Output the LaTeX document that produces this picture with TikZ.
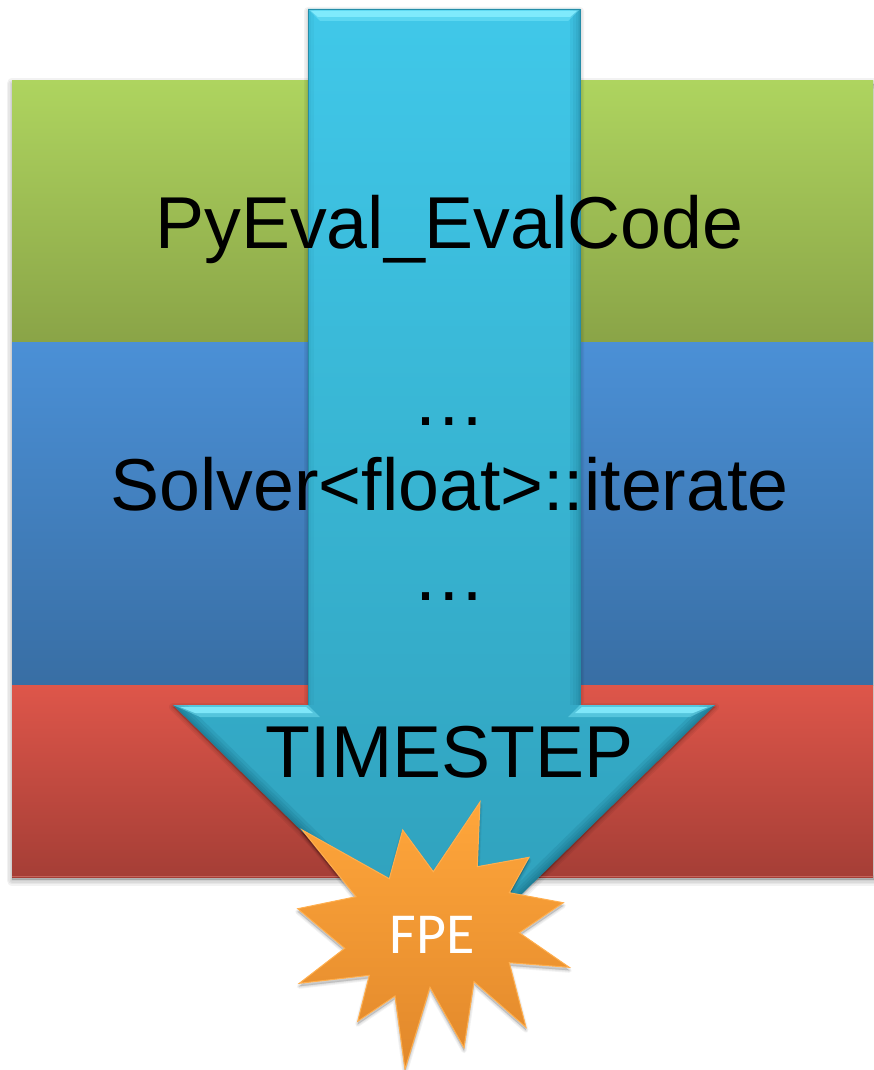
\documentclass[tikz,border=0pt]{standalone}
\usepackage{fontspec}
\setmainfont{Liberation Sans}
\newfontfamily\fpefont{Carlito}
\usetikzlibrary{calc}
\definecolor{grnT}{HTML}{AED45F}\definecolor{grnB}{HTML}{8AA447}
\definecolor{bluT}{HTML}{4B90D6}\definecolor{bluB}{HTML}{386EA4}
\definecolor{redT}{HTML}{DE564A}\definecolor{redB}{HTML}{A53E36}
\definecolor{arrT}{HTML}{40C8E9}\definecolor{arrB}{HTML}{2F9FBA}
\definecolor{hiC}{HTML}{86EEFF}\definecolor{loC}{HTML}{14657C}
\definecolor{starT}{HTML}{FFA63B}\definecolor{starB}{HTML}{E1882B}
\tikzset{
  bigtext/.style={font=\fontsize{73.5}{74}\selectfont,text=black,anchor=base,inner sep=0pt},
  softshadow/.style={fill=black,fill opacity=.05,draw=black,draw opacity=.05,line join=round},
}
\begin{document}
\begin{tikzpicture}[x=1pt,y=-1pt]
\useasboundingbox (0,0) rectangle (873,1070);
% band shadow
\foreach \w in {2,5,8,11}{
  \draw[softshadow,line width=\w pt] (12,84) rectangle (880,880);
}
% bands
\path[top color=grnT,bottom color=grnB] (12,81) rectangle (873,342);
\path[top color=bluT,bottom color=bluB] (12,342) rectangle (873,685);
\path[top color=redT,bottom color=redB] (12,685) rectangle (873,877);
\fill[redT!65!white,opacity=.45] (12,875.5) rectangle (873,877);
% arrow shadow
\foreach \w in {2,5,8}{
  \draw[softshadow,line width=\w pt] (308,11) -- (580,11) -- (580,707) -- (715,707) -- (444,972) -- (173,707) -- (308,707) -- cycle;
}
% arrow body
\path[top color=arrT,bottom color=arrB] (308,9) -- (580,9) -- (580,705) -- (715,705) -- (444,970) -- (173,705) -- (308,705) -- cycle;
% bevels: soft inner edges
\begin{scope}
\clip (308,9) -- (580,9) -- (580,705) -- (715,705) -- (444,970) -- (173,705) -- (308,705) -- cycle;
\foreach \w in {2,5,9,14,20}{
  \draw[loC,opacity=.09,line width=\w pt] (580,9) -- (580,705);
  \draw[loC,opacity=.16,line width=\w pt] (715,705) -- (444,970) -- (173,705);
}
\foreach \w in {2,6,12}{
  \draw[loC,opacity=.06,line width=\w pt] (308,9) -- (308,705);
}
\fill[hiC,opacity=.4] (308,9) -- (580,9) -- (568,21) -- (320,21) -- cycle;
\fill[hiC,opacity=.85] (311,11) -- (577,11) -- (570,17) -- (318,17) -- cycle;
\fill[hiC,opacity=.4] (173,705) -- (308,705) -- (320,717) -- (200,717) -- cycle;
\fill[hiC,opacity=.85] (180,707) -- (306,707) -- (313,713) -- (195,713) -- cycle;
\fill[hiC,opacity=.4] (580,705) -- (715,705) -- (690,717) -- (568,717) -- cycle;
\fill[hiC,opacity=.85] (582,707) -- (708,707) -- (693,713) -- (575,713) -- cycle;
\end{scope}
\draw[loC!60!arrT,line width=.8pt,line join=miter] (308,705) -- (308,9) -- (580,9) -- (580,705);
% texts
\node[bigtext] (pyeval) at (449.5,248) {PyEval\_EvalCode};
\node[bigtext] (dotsa) at (449,425) {…};
\node[bigtext] (solver) at (449.5,510) {Solver<float>::iterate};
\node[bigtext] (dotsb) at (449,600) {…};
\node[bigtext] (timestep) at (449.5,777) {TIMESTEP};
% star
\def\starpath{(480,802) -- (477.3,866.7) -- (529,857.3) -- (509.3,892.7) -- (563.3,902.7) -- (519.3,932.7) -- (569.3,967.3) -- (509.3,962.7) -- (526,1027.3) -- (474,981.7) -- (464,1047.7) -- (430,987.3) -- (405,1069.3) -- (395,996) -- (357.7,1021.3) -- (369.3,975.3) -- (299.3,983.3) -- (344.7,948.3) -- (297.7,908.7) -- (356,896.7) -- (302.3,830) -- (389.3,878.7) -- (402.7,830) -- (433.3,871.7) -- cycle}
\foreach \w in {1,3,5}{
  \begin{scope}[yshift=-3pt]
  \draw[softshadow,line width=\w pt] \starpath;
  \end{scope}
}
\path[top color=starT,bottom color=starB] \starpath;
\draw[starT!90!white,line width=1pt,line join=miter] \starpath;
\node[font=\fpefont\fontsize{58}{58}\selectfont,text=white,anchor=base,inner sep=0pt] (fpe) at (432,953) {FPE};
\end{tikzpicture}
\end{document}
